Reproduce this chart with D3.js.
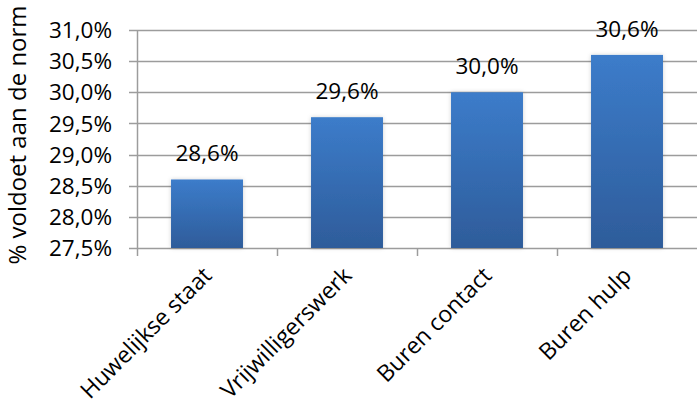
<!DOCTYPE html>
<html>
<head>
<meta charset="utf-8">
<script src="https://cdn.jsdelivr.net/npm/d3@7"></script>
<style>
  html, body { margin: 0; padding: 0; background: #fff; }
  svg { display: block; font-family: "Open Sans", "Liberation Sans", sans-serif; }
</style>
</head>
<body>
<svg id="chart" width="697" height="410"></svg>
<script>
// Share of people meeting the norm, per domain
const categories = ["Huwelijkse staat", "Vrijwilligerswerk", "Buren contact", "Buren hulp"];
const values = [28.6, 29.6, 30.0, 30.6];
const yTicks = [27.5, 28.0, 28.5, 29.0, 29.5, 30.0, 30.5, 31.0];
const yTitle = "% voldoet aan de norm";

const svg = d3.select("#chart");
const plot = { left: 137, right: 697, top: 30, bottom: 248 };

const x = d3.scaleBand().domain(categories).range([plot.left, plot.right]).paddingInner(0.486).paddingOuter(0.243);
const band = d3.scaleBand().domain(categories).range([plot.left, plot.right]);
const y = d3.scaleLinear().domain([27.5, 31.0]).range([plot.bottom, plot.top]);

const fmt = v => d3.format(".1f")(v).replace(".", ",") + "%";

// gradient + soft shadow for the bars
const defs = svg.append("defs");
const grad = defs.append("linearGradient").attr("id", "barGrad").attr("x1", 0).attr("y1", 0).attr("x2", 0).attr("y2", 1);
grad.append("stop").attr("offset", "0%").attr("stop-color", "#3c7cca");
grad.append("stop").attr("offset", "100%").attr("stop-color", "#2e5c9a");
const shadow = defs.append("filter").attr("id", "barShadow").attr("x", "-20%").attr("y", "-10%").attr("width", "140%").attr("height", "120%");
shadow.append("feDropShadow").attr("dx", 0).attr("dy", 0).attr("stdDeviation", 2).attr("flood-color", "#000").attr("flood-opacity", 0.18);

// horizontal gridlines
svg.append("g")
  .selectAll("line")
  .data(yTicks)
  .join("line")
  .attr("x1", plot.left - 8)
  .attr("x2", plot.right)
  .attr("y1", d => Math.round(y(d)) + 0.5)
  .attr("y2", d => Math.round(y(d)) + 0.5)
  .attr("stroke", "#9c9c9c")
  .attr("stroke-width", 1.5);

// y axis line
svg.append("line")
  .attr("x1", plot.left + 0.5).attr("x2", plot.left + 0.5)
  .attr("y1", plot.top).attr("y2", plot.bottom + 1)
  .attr("stroke", "#9c9c9c").attr("stroke-width", 1.5);

// y tick labels
svg.append("g")
  .selectAll("text")
  .data(yTicks)
  .join("text")
  .attr("x", 112)
  .attr("y", d => y(d))
  .attr("dy", "0.36em")
  .attr("text-anchor", "end")
  .attr("font-size", 22.5)
  .attr("fill", "#000")
  .text(fmt);

// category tick marks on the x axis
svg.append("g")
  .selectAll("line")
  .data(categories)
  .join("line")
  .attr("x1", d => band(d) + 0.5)
  .attr("x2", d => band(d) + 0.5)
  .attr("y1", plot.bottom)
  .attr("y2", plot.bottom + 8)
  .attr("stroke", "#9c9c9c")
  .attr("stroke-width", 1.5);

// bars
svg.append("g")
  .selectAll("rect")
  .data(values)
  .join("rect")
  .attr("x", (d, i) => x(categories[i]))
  .attr("width", x.bandwidth())
  .attr("y", d => y(d))
  .attr("height", d => y(27.5) - y(d))
  .attr("fill", "url(#barGrad)")
  .attr("filter", "url(#barShadow)");

// value labels
svg.append("g")
  .selectAll("text")
  .data(values)
  .join("text")
  .attr("x", (d, i) => x(categories[i]) + x.bandwidth() / 2)
  .attr("y", d => y(d) - 18)
  .attr("text-anchor", "middle")
  .attr("font-size", 22.5)
  .attr("fill", "#000")
  .text(fmt);

// rotated category labels
svg.append("g")
  .selectAll("text")
  .data(categories)
  .join("text")
  .attr("transform", d => `translate(${x(d) + x.bandwidth() / 2 + 6},${plot.bottom + 29}) rotate(-45)`)
  .attr("text-anchor", "end")
  .attr("font-size", 23)
  .attr("fill", "#000")
  .text(d => d);

// y axis title
svg.append("text")
  .attr("transform", `translate(26,${(8 + 262) / 2}) rotate(-90)`)
  .attr("text-anchor", "middle")
  .attr("font-size", 24)
  .attr("fill", "#000")
  .text(yTitle);
</script>
</body>
</html>
